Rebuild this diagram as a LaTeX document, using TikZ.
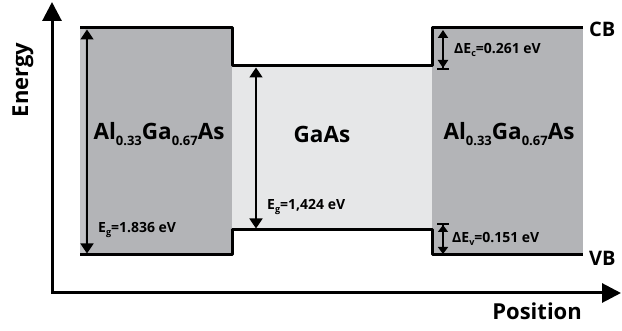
\documentclass[tikz,border=0pt]{standalone}
\usepackage{fontspec}
\setmainfont{Open Sans}
\usetikzlibrary{arrows.meta}
\definecolor{darkfill}{HTML}{B3B4B7}
\definecolor{stripfill}{HTML}{C2C3C6}
\definecolor{lightfill}{HTML}{E6E7E8}
\newcommand{\lowsub}[2]{\raisebox{-0.45ex}{\fontsize{#1}{#1}\selectfont #2}}
\tikzset{
  band/.style={line width=3pt, line join=round},
  axis/.style={line width=3pt, -{Triangle[length=19pt,width=19pt]}},
  gap/.style={line width=1.8pt, {Triangle[length=10pt,width=13pt]}-{Triangle[length=10pt,width=13pt]}},
  big/.style={font=\bfseries\fontsize{22.5}{22.5}\selectfont, inner sep=0pt},
  ax/.style={font=\bfseries\fontsize{22}{22}\selectfont, inner sep=0pt},
  axs/.style={font=\bfseries\fontsize{20}{20}\selectfont, inner sep=0pt, anchor=west},
  small/.style={font=\bfseries\fontsize{14}{14}\selectfont, inner sep=0pt, anchor=west},
}
\begin{document}
\begin{tikzpicture}[x=1pt,y=-1pt]
\useasboundingbox (0,0) rectangle (622,331);
% fills
\fill[darkfill] (80,28) rectangle (232,255);
\fill[stripfill] (80,28) rectangle (85,255);
\fill[lightfill] (232,66) rectangle (432,230);
\fill[darkfill] (432,28) rectangle (583,255);
% axes
\coordinate (o) at (52,293);
\coordinate (ytip) at (52,2);
\coordinate (xtip) at (621,293);
\draw[line width=3pt] (ytip) ++(0,18) -- (o) -- ++(550,0);
\draw[axis] (o) -- (ytip);
\draw[axis] (o) -- (xtip);
% bands
\coordinate (cb1) at (80,28);
\coordinate (cb2) at (232,28);
\coordinate (cb3) at (232,66);
\coordinate (cb4) at (432,66);
\coordinate (cb5) at (432,28);
\coordinate (cb6) at (583,28);
\coordinate (vb1) at (80,255);
\coordinate (vb2) at (232,255);
\coordinate (vb3) at (232,230);
\coordinate (vb4) at (432,230);
\coordinate (vb5) at (432,255);
\coordinate (vb6) at (583,255);
\draw[band] (cb1) -- (cb2) -- (cb3) -- (cb4) -- (cb5) -- (cb6);
\draw[band] (vb1) -- (vb2) -- (vb3) -- (vb4) -- (vb5) -- (vb6);
% gap arrows
\coordinate (g1t) at (87,29.5);
\coordinate (g1b) at (87,253.5);
\coordinate (g2t) at (256,67.5);
\coordinate (g2b) at (256,228.5);
\draw[gap] (g1t) -- (g1b);
\draw[gap] (g2t) -- (g2b);
\coordinate (ect) at (443,30);
\coordinate (ecb) at (443,70);
\draw[line width=1.8pt, {Triangle[length=8pt,width=10pt]}-{Triangle[length=8pt,width=10pt]Bar[width=12pt,line width=2pt]}] (ect) -- (ecb);
\coordinate (evt) at (443,223);
\coordinate (evb) at (443,254);
\draw[line width=1.8pt, {Bar[width=12pt,line width=2pt]Triangle[length=7pt,width=10pt]}-{Triangle[length=7pt,width=10pt]}] (evt) -- (evb);
% labels
\node[ax, rotate=90] (energy) at (23,80) {Energy};
\node[ax, anchor=north east] (position) at (582,303) {Position};
\node[axs] (cb) at (589,29) {CB};
\node[axs] (vb) at (589,258) {VB};
\node[big] (al1) at (159,134) {Al\lowsub{13}{0.33}Ga\lowsub{13}{0.67}As};
\node[big] (gaas) at (322,134) {GaAs};
\node[big] (al2) at (509,134) {Al\lowsub{13}{0.33}Ga\lowsub{13}{0.67}As};
\node[small] (eg1) at (98,230) {E\lowsub{9}{g}=1.836 eV};
\node[small] (eg2) at (267,207) {E\lowsub{9}{g}=1,424 eV};
\node[small] (dec) at (454,50) {ΔE\lowsub{9}{c}=0.261 eV};
\node[small] (dev) at (452,239) {ΔE\lowsub{9}{v}=0.151 eV};
\end{tikzpicture}
\end{document}
